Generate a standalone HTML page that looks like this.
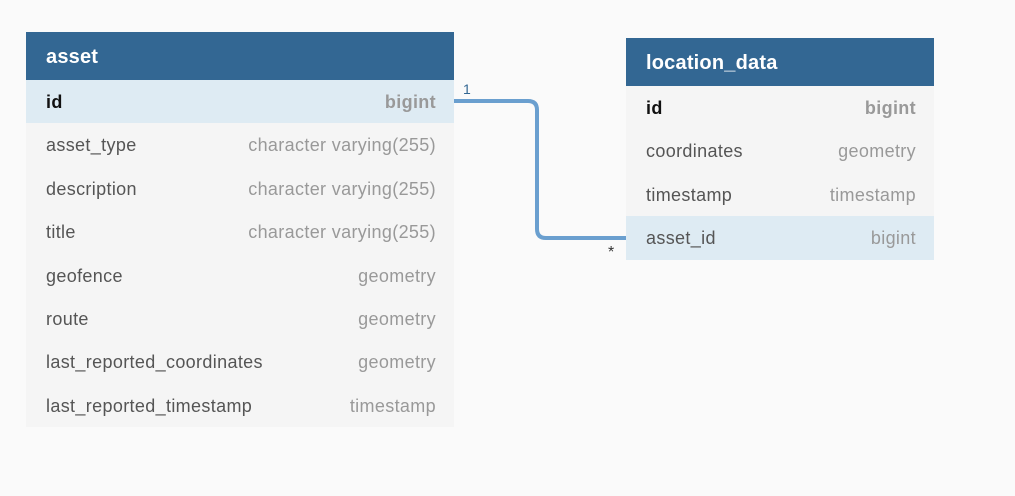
<!DOCTYPE html>
<html><head><style>
body{margin:0;width:1015px;height:496px;background:#fafafa;font-family:"Liberation Sans",sans-serif;position:relative;overflow:hidden}
.t{position:absolute;background:#f5f5f5}
.h{height:48px;background:#336793;color:#fff;font-weight:bold;font-size:20px;line-height:50px;padding-left:20px;box-sizing:border-box;letter-spacing:0.2px}
.r{height:43.4px;line-height:45px;font-size:18px;letter-spacing:0.35px;color:#555;padding:0 18px 0 20px;display:flex;justify-content:space-between;box-sizing:border-box}
.r span:last-child{color:#999}
.k{background:#deebf3}
.b{font-weight:bold;color:#111}
.b span:last-child{color:#999}
</style></head><body>
<div class="t" style="left:26px;top:32px;width:428px">
<div class="h">asset</div>
<div class="r k b"><span>id</span><span>bigint</span></div>
<div class="r"><span>asset_type</span><span>character varying(255)</span></div>
<div class="r"><span>description</span><span>character varying(255)</span></div>
<div class="r"><span>title</span><span>character varying(255)</span></div>
<div class="r"><span>geofence</span><span>geometry</span></div>
<div class="r"><span>route</span><span>geometry</span></div>
<div class="r"><span>last_reported_coordinates</span><span>geometry</span></div>
<div class="r"><span>last_reported_timestamp</span><span>timestamp</span></div>
</div>
<div class="t" style="left:626px;top:38px;width:308px">
<div class="h">location_data</div>
<div class="r b"><span>id</span><span>bigint</span></div>
<div class="r"><span>coordinates</span><span>geometry</span></div>
<div class="r"><span>timestamp</span><span>timestamp</span></div>
<div class="r k"><span>asset_id</span><span>bigint</span></div>
</div>
<svg style="position:absolute;left:0;top:0" width="1015" height="496">
<path d="M454 101 H528 Q537 101 537 110 V229 Q537 238 546 238 H626" fill="none" stroke="#6a9fcf" stroke-width="4"/>
<text x="463" y="94" font-size="14" fill="#336793" font-family="Liberation Sans">1</text>
<text x="608" y="257" font-size="16" fill="#333" font-family="Liberation Sans">*</text>
</svg>
</body></html>
